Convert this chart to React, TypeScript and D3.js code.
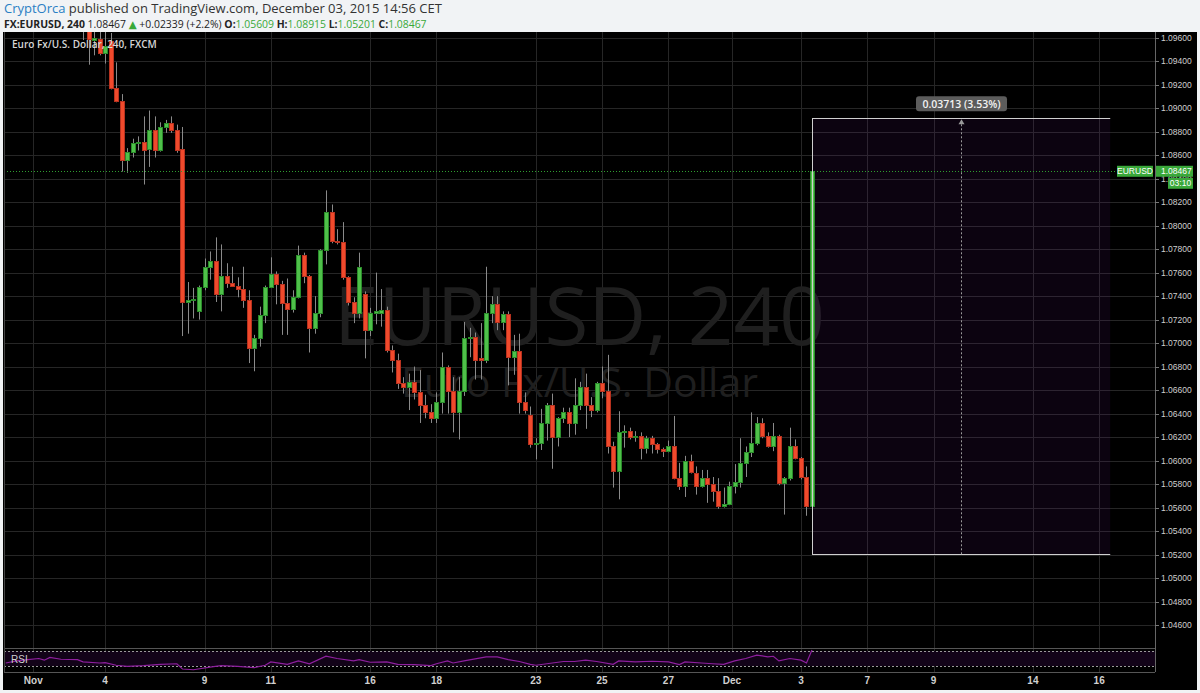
import React from "react";
import * as d3 from "d3";

// ---- data (4h candles, EURUSD, FXCM) ----
const opens = [1.0992,1.0975,1.0958,1.0959,1.0947,1.0957,1.0917,1.0906,1.0856,1.0863,
1.0870,1.0871,1.0865,1.0881,1.0864,1.0884,1.0887,1.0881,1.0865,1.0735,
1.0737,1.0727,1.0748,1.0765,1.0770,1.0742,1.0757,1.0751,1.0749,1.0746,
1.0737,1.0696,1.0704,1.0724,1.0748,1.0759,1.0750,1.0734,1.0729,1.0739,
1.0775,1.0757,1.0713,1.0726,1.0779,1.0812,1.0787,1.0786,1.0756,1.0735,
1.0726,1.0742,1.0711,1.0726,1.0726,1.0728,1.0694,1.0686,1.0666,1.0663,
1.0667,1.0658,1.0647,1.0641,1.0636,1.0650,1.0680,1.0659,1.0641,1.0659,
1.0704,1.0705,1.0687,1.0686,1.0726,1.0733,1.0718,1.0725,1.0688,1.0693,
1.0650,1.0639,1.0614,1.0615,1.0632,1.0647,1.0620,1.0636,1.0641,1.0632,
1.0647,1.0663,1.0647,1.0643,1.0666,1.0659,1.0612,1.0591,1.0624,1.0625,
1.0620,1.0621,1.0611,1.0619,1.0614,1.0610,1.0608,1.0612,1.0585,1.0578,
1.0600,1.0589,1.0578,1.0585,1.0580,1.0574,1.0561,1.0563,1.0578,1.0582,
1.0598,1.0607,1.0615,1.0632,1.0621,1.0612,1.0621,1.0581,1.0585,1.0612,
1.0602,1.0586,1.05609];
const highs = [1.1002,1.0982,1.0968,1.0965,1.0965,1.0964,1.0939,1.0912,1.0866,1.0874,
1.0876,1.0893,1.0898,1.0893,1.0888,1.0890,1.0893,1.0886,1.0884,1.0752,
1.0747,1.0749,1.0772,1.0778,1.0790,1.0784,1.0768,1.0765,1.0756,1.0765,
1.0745,1.0707,1.0731,1.0749,1.0773,1.0761,1.0753,1.0755,1.0745,1.0783,
1.0777,1.0758,1.0740,1.0780,1.0830,1.0818,1.0797,1.0803,1.0757,1.0739,
1.0777,1.0744,1.0730,1.0760,1.0746,1.0731,1.0698,1.0691,1.0671,1.0674,
1.0680,1.0677,1.0656,1.0648,1.0658,1.0692,1.0681,1.0671,1.0671,1.0718,
1.0713,1.0709,1.0717,1.0765,1.0740,1.0740,1.0727,1.0727,1.0707,1.0708,
1.0658,1.0646,1.0619,1.0644,1.0649,1.0657,1.0637,1.0645,1.0645,1.0670,
1.0667,1.0674,1.0654,1.0667,1.0680,1.0690,1.0616,1.0642,1.0630,1.0628,
1.0625,1.0624,1.0621,1.0621,1.0615,1.0611,1.0617,1.0638,1.0598,1.0604,
1.0605,1.0595,1.0592,1.0592,1.0586,1.0585,1.0577,1.0582,1.0597,1.0619,
1.0612,1.0641,1.0637,1.0636,1.0624,1.0632,1.0622,1.0586,1.0628,1.0618,
1.0603,1.0595,1.08915];
const lows = [1.0958,1.0937,1.0945,1.0945,1.0938,1.0916,1.0905,1.0846,1.0845,1.0858,
1.0864,1.0835,1.0850,1.0858,1.0863,1.0879,1.0879,1.0862,1.0706,1.0708,
1.0721,1.0720,1.0745,1.0754,1.0735,1.0727,1.0747,1.0748,1.0739,1.0730,
1.0683,1.0676,1.0697,1.0717,1.0747,1.0733,1.0707,1.0707,1.0726,1.0738,
1.0751,1.0692,1.0708,1.0722,1.0767,1.0785,1.0784,1.0754,1.0732,1.0717,
1.0721,1.0687,1.0706,1.0716,1.0714,1.0692,1.0675,1.0661,1.0657,1.0643,
1.0652,1.0632,1.0636,1.0632,1.0632,1.0640,1.0640,1.0624,1.0618,1.0655,
1.0688,1.0669,1.0669,1.0683,1.0717,1.0711,1.0711,1.0664,1.0673,1.0640,
1.0640,1.0611,1.0601,1.0609,1.0617,1.0593,1.0612,1.0632,1.0620,1.0622,
1.0643,1.0627,1.0637,1.0641,1.0653,1.0606,1.0577,1.0567,1.0611,1.0618,
1.0616,1.0601,1.0606,1.0606,1.0606,1.0603,1.0607,1.0584,1.0575,1.0569,
1.0589,1.0571,1.0577,1.0564,1.0565,1.0559,1.0560,1.0562,1.0572,1.0577,
1.0586,1.0603,1.0613,1.0619,1.0611,1.0608,1.0579,1.0554,1.0583,1.0601,
1.0584,1.0553,1.05201];
const closes = [1.0975,1.0959,1.0960,1.0947,1.0953,1.0917,1.0906,1.0856,1.0863,1.0870,
1.0871,1.0864,1.0881,1.0864,1.0884,1.0887,1.0881,1.0864,1.0735,1.0737,
1.07375,1.0748,1.0765,1.0770,1.0742,1.0757,1.0751,1.0749,1.0746,1.0737,
1.0696,1.0704,1.0724,1.0748,1.0759,1.0750,1.0734,1.0729,1.0739,1.0775,
1.0757,1.0713,1.0726,1.0779,1.0812,1.0787,1.0786,1.0756,1.0735,1.0726,
1.0765,1.0711,1.0726,1.0727,1.0728,1.0694,1.0686,1.0666,1.0663,1.0667,
1.0658,1.0647,1.0641,1.0636,1.0650,1.0680,1.0659,1.0641,1.0659,1.0704,
1.0705,1.0686,1.0686,1.0726,1.0733,1.0718,1.0725,1.0688,1.0693,1.0650,
1.0643,1.0614,1.0615,1.0632,1.0647,1.0620,1.0636,1.0641,1.0632,1.0647,
1.0663,1.0647,1.0643,1.0666,1.0659,1.0612,1.0591,1.0624,1.0625,1.0620,
1.0621,1.0611,1.0619,1.0614,1.0610,1.0608,1.0612,1.0585,1.0578,1.0600,
1.0590,1.0578,1.0585,1.0580,1.0574,1.0561,1.0563,1.0578,1.0582,1.0598,
1.0607,1.0615,1.0632,1.0621,1.0612,1.0621,1.0581,1.0585,1.0612,1.0602,
1.0586,1.05609,1.08467];

// RSI(14) readings: bar index -> value
const rsiBars = [-14,-12,-10,-8,-7,-6,-4,-1,0,3,4,6,8,11,14,17,18,20,23,25,28,31,33,34,37,39,41,44,46,49,50,52,55,57,60,63,64,66,67,69,73,75,77,79,81,82,85,87,89,91,93,96,97,100,103,106,108,109,112,114,116,118,120,122,124,125,126,128,130,131,132];
const rsiValues = [38,43.6,47,50,45.5,52.7,48,47,41,38,39,32,29,31,34.5,36,22,20,27,31,29,25.5,32,41,34.5,43.6,36,56,50,43.6,47,40,41,34.5,33.6,31,36,43.6,38,43.6,54.5,54.5,47,42,34.5,32,38,42,42,45.5,42,34.5,43.6,41,42.7,41,33.6,41,38,36,34.5,43.6,50,59,54.5,56,43.6,50,45.5,38,72.7];

const priceTicks = [1.046,1.048,1.05,1.052,1.054,1.056,1.058,1.06,1.062,1.064,1.066,1.068,1.07,1.072,1.074,1.076,1.078,1.08,1.082,1.084,1.086,1.088,1.09,1.092,1.094,1.096];
const dateLabels = ["Nov","4","9","11","16","18","23","25","27","Dec","3","7","9","14","16"];
const dateBars = [-9,4,22,34,52,64,82,94,106,117.5,130,142,154,172,184];

const lastPrice = 1.08467;
const measureFrom = 1.05202;
const measureTo = 1.08915;
const measureStartBar = 132;
const measureEndBar = 186;

export default function App() {
  const W = 1200, H = 693;
  const paneL = 4, paneR = 1155, paneT = 32, paneB = 648, rsiB = 672, frameR = 1197, frameB = 690;
  const x = d3.scaleLinear().domain([0, 132]).range([83, 812]);
  const y = d3.scaleLinear().domain([1.046, 1.096]).range([625, 37.7]);
  const yr = d3.scaleLinear().domain([30, 70]).range([666, 651]);
  const fmt = d3.format(".5f");
  const rsiPath = d3.line<number>().x((_, i) => x(rsiBars[i])).y((d) => yr(d))(rsiValues) || "";

  const mx0 = x(measureStartBar), mx1 = x(measureEndBar), mxm = Math.round((mx0 + mx1) / 2) + 0.5;
  const myTop = y(measureTo), myBot = y(measureFrom);
  const diff = measureTo - measureFrom;
  const pct = (diff / measureFrom) * 100;
  const yLast = y(lastPrice);
  const ff = "'Open Sans', 'DejaVu Sans', sans-serif";
  const af = "'Liberation Sans', Arial, sans-serif";
  const nf = "'Liberation Sans Narrow', 'Liberation Sans', Arial, sans-serif";
  const green = "#3aa83a";

  return (
    <div style={{ position: "fixed", left: 0, top: 0 }}>
      <svg width={W} height={H} style={{ display: "block" }}>
        <defs>
          <clipPath id="mainclip"><rect x={paneL} y={paneT} width={paneR - paneL} height={paneB - paneT} /></clipPath>
          <clipPath id="rsiclip"><rect x={paneL} y={paneB} width={paneR - paneL} height={rsiB - paneB} /></clipPath>
        </defs>
        <rect x={0} y={0} width={W} height={H} fill="#f1f3f5" />
        {/* header */}
        <text x={4} y={12.5} fontFamily={ff} fontSize={13} fill="#333">
          <tspan fill="#2a7fc4">CryptOrca</tspan>
          <tspan> published on TradingView.com, December 03, 2015 14:56 CET</tspan>
        </text>
        <text x={4} y={27.5} fontFamily={ff} fontSize={10.4} fill="#222">
          <tspan fontWeight="bold">FX:EURUSD, 240</tspan>
          <tspan> 1.08467 </tspan>
          <tspan fill="#39a939">▲</tspan>
          <tspan> +0.02339 (+2.2%) </tspan>
          <tspan fontWeight="bold">O:</tspan><tspan fill="#39a939">1.05609 </tspan>
          <tspan fontWeight="bold">H:</tspan><tspan fill="#39a939">1.08915 </tspan>
          <tspan fontWeight="bold">L:</tspan><tspan fill="#39a939">1.05201 </tspan>
          <tspan fontWeight="bold">C:</tspan><tspan fill="#39a939">1.08467</tspan>
        </text>
        {/* chart frame */}
        <rect x={3} y={paneT} width={frameR - 3} height={frameB - paneT} fill="#000" />

        {/* grid */}
        {priceTicks.map((p) => (
          <line key={"h" + p} x1={paneL} x2={paneR} y1={Math.round(y(p)) + 0.5} y2={Math.round(y(p)) + 0.5} stroke="#262626" />
        ))}
        {dateBars.map((b, i) => (
          <line key={"v" + i} x1={Math.round(x(b)) + 0.5} x2={Math.round(x(b)) + 0.5} y1={paneT} y2={rsiB} stroke="#262626" />
        ))}

        {/* watermark */}
        <text x={(paneL + paneR) / 2} y={345} textAnchor="middle" fontFamily={ff} fontSize={80} fill="#1f1f1f">EURUSD, 240</text>
        <text x={(paneL + paneR) / 2} y={397} textAnchor="middle" fontFamily={ff} fontSize={41} fill="#1f1f1f">Euro Fx/U.S. Dollar</text>

        {/* measure area */}
        <rect x={mx0} y={myTop} width={mx1 - mx0} height={myBot - myTop} fill="rgba(90,20,120,0.13)" />

        {/* candles */}
        <g clipPath="url(#mainclip)">
          {opens.map((o, i) => {
            const c = closes[i];
            const up = c >= o;
            const cx = Math.round(x(i));
            const yTop = Math.round(y(Math.max(o, c)));
            const yBot = Math.round(y(Math.min(o, c)));
            return (
              <g key={i}>
                <line x1={cx + 0.5} x2={cx + 0.5} y1={y(highs[i])} y2={y(lows[i])} stroke="#8a8a8a" />
                <rect x={cx - 1.5} y={yTop + 0.5} width={4} height={Math.max(1, yBot - yTop)}
                  fill={up ? "#4fc04a" : "#f04a2c"} stroke={up ? "#2a8c2a" : "#b8321f"} strokeWidth={1} />
              </g>
            );
          })}
        </g>

        {/* measure lines */}
        <line x1={mx0} x2={mx1} y1={Math.round(myTop) + 0.5} y2={Math.round(myTop) + 0.5} stroke="#cfcfcf" />
        <line x1={mx0} x2={mx1} y1={Math.round(myBot) + 0.5} y2={Math.round(myBot) + 0.5} stroke="#cfcfcf" />
        <line x1={Math.round(mx0) + 0.5} x2={Math.round(mx0) + 0.5} y1={myTop} y2={myBot} stroke="#cfcfcf" />
        <line x1={mxm} x2={mxm} y1={myBot} y2={myTop + 5} stroke="#9a9a9a" strokeDasharray="2,2" />
        <path d={`M${mxm},${myTop + 1}L${mxm - 3},${myTop + 6}L${mxm + 3},${myTop + 6}Z`} fill="#9a9a9a" />
        <rect x={mxm - 45.5} y={myTop - 22} width={91} height={15} rx={3} fill="#5c5c5c" />
        <text x={mxm} y={myTop - 14.5} textAnchor="middle" dominantBaseline="central" fontFamily={ff} fontSize={10.5} fontWeight={600} fill="#f2f2f2">
          {`${fmt(diff)} (${pct.toFixed(2)}%)`}
        </text>

        {/* last price line */}
        <line x1={paneL} x2={1117} y1={Math.round(yLast) + 0.5} y2={Math.round(yLast) + 0.5} stroke="#2f9e2f" strokeDasharray="1,2" />

        {/* legend */}
        <text x={12} y={48} fontFamily={ff} fontSize={10} fontWeight={600} fill="#d6d6d6">Euro Fx/U.S. Dollar, 240, FXCM</text>

        {/* RSI pane */}
        <rect x={paneL} y={yr(70)} width={paneR - paneL} height={yr(30) - yr(70)} fill="#120318" />
        <line x1={paneL} x2={paneR} y1={Math.round(yr(70)) + 0.5} y2={Math.round(yr(70)) + 0.5} stroke="#9a9a9a" strokeDasharray="2,2" />
        <line x1={paneL} x2={paneR} y1={Math.round(yr(30)) + 0.5} y2={Math.round(yr(30)) + 0.5} stroke="#9a9a9a" strokeDasharray="2,2" />
        <g clipPath="url(#rsiclip)">
          <path d={rsiPath} fill="none" stroke="#8e1f9e" strokeWidth={1.2} />
        </g>
        <text x={11} y={663} fontFamily={af} fontSize={10} fill="#cfcfcf">RSI</text>

        {/* pane borders */}
        <line x1={paneL} x2={paneR} y1={paneB + 0.5} y2={paneB + 0.5} stroke="#555" />
        <line x1={paneL} x2={paneR} y1={rsiB + 0.5} y2={rsiB + 0.5} stroke="#555" />
        <line x1={paneR + 0.5} x2={paneR + 0.5} y1={paneT} y2={rsiB} stroke="#666" />
        <line x1={paneL + 0.5} x2={paneL + 0.5} y1={paneT} y2={rsiB} stroke="#444" />

        {/* price axis */}
        {priceTicks.map((p) => (
          <g key={"t" + p}>
            <line x1={paneR} x2={paneR + 4} y1={Math.round(y(p)) + 0.5} y2={Math.round(y(p)) + 0.5} stroke="#777" />
            <text x={paneR + 6} y={y(p)} dominantBaseline="central" fontFamily={af} fontSize={8.5} fill="#cfcfcf">{fmt(p)}</text>
          </g>
        ))}

        {/* last price labels */}
        <rect x={1117} y={yLast - 5} width={36} height={11} fill={green} />
        <text x={1135} y={yLast + 0.5} textAnchor="middle" dominantBaseline="central" fontFamily={af} fontSize={8.5} fill="#fff">EURUSD</text>
        <rect x={paneR + 1} y={yLast - 5} width={37} height={11} fill={green} />
        <text x={paneR + 6} y={yLast + 0.5} dominantBaseline="central" fontFamily={af} fontSize={8.5} fill="#fff">{fmt(lastPrice)}</text>
        <rect x={1168} y={yLast + 7} width={25} height={11} fill={green} />
        <text x={1180.5} y={yLast + 12.5} textAnchor="middle" dominantBaseline="central" fontFamily={af} fontSize={8.5} fill="#fff">03:10</text>

        {/* time axis */}
        {dateLabels.map((l, i) => (
          <text key={"d" + i} x={x(dateBars[i])} y={684} textAnchor="middle" fontFamily={nf} fontSize={10} fontWeight="bold" fill="#d0d0d0">{l}</text>
        ))}
      </svg>
    </div>
  );
}
